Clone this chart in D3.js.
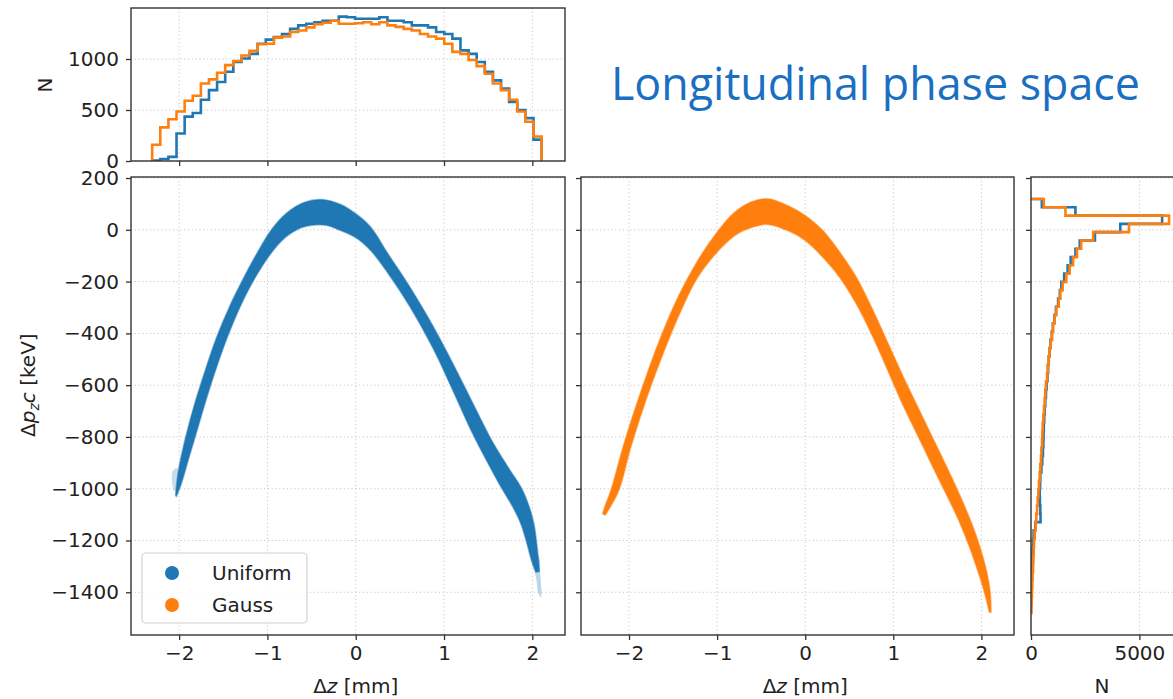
<!DOCTYPE html>
<html><head><meta charset="utf-8">
<script src="https://cdn.jsdelivr.net/npm/d3@7"></script>
<style>
body{margin:0;background:#fff;}
svg{display:block;font-family:"DejaVu Sans",sans-serif;}
</style></head>
<body><svg id="c" width="1173" height="699"></svg>
<script>
// ---------------- DATA ----------------
const seriesNames = ["Uniform", "Gauss"];
const seriesColors = ["#1f77b4", "#ff7f0e"];

// Top histogram of Δz (48 bins)
const zHistStart = -2.305, zHistBinWidth = 0.091875;
const zHistUniform = [5,20,40,270,435,470,600,695,775,875,970,1005,1050,1150,1190,1215,1245,1295,1330,1345,1360,1375,1375,1415,1410,1395,1395,1395,1410,1375,1375,1360,1330,1330,1310,1265,1245,1200,1085,1050,970,875,790,710,580,500,420,210];
const zHistGauss = [160,330,410,485,590,640,760,800,865,940,980,1035,1080,1145,1150,1210,1220,1265,1280,1310,1340,1355,1375,1345,1345,1350,1360,1340,1360,1330,1315,1295,1280,1245,1220,1200,1150,1070,1050,990,930,855,760,695,600,485,385,240];

// Right histogram of Δp_z c (50 bins, from top)
const pHistTop = 119, pHistBinWidth = 32;
const pHistUniform = [500,2050,6050,4120,2950,2250,2050,1830,1690,1530,1400,1330,1250,1150,1080,1010,960,900,860,820,790,760,720,690,660,630,610,590,580,570,550,520,480,430,420,400,410,430,440,200,120,90,70,60,45,30,15,5,0,0];
const pHistGauss = [590,1590,6370,4520,2870,2315,2120,1940,1785,1630,1460,1355,1280,1170,1090,1015,970,910,860,815,770,740,690,660,630,600,570,540,525,510,480,460,430,400,370,340,310,280,245,215,170,140,125,110,95,75,60,45,30,15];

// Phase-space bands: upper and lower outlines [Δz mm, Δp_z c keV]
const uniformUpper = [[-2.04,-1025],[-2.02,-960],[-2.00,-916],[-1.925,-800],[-1.83,-680],[-1.72,-560],[-1.58,-420],[-1.42,-290],[-1.26,-180],[-1.10,-80],[-0.95,2],[-0.78,65],[-0.60,104],[-0.39,117],[-0.17,98],[0,62],[0.17,10],[0.36,-90],[0.62,-225],[0.88,-375],[1.12,-530],[1.34,-680],[1.55,-820],[1.74,-925],[1.88,-1000],[1.97,-1075],[2.02,-1140],[2.045,-1200],[2.065,-1260],[2.08,-1320]];
const uniformLower = [[-2.03,-1030],[-1.97,-975],[-1.906,-900],[-1.81,-790],[-1.72,-685],[-1.60,-555],[-1.46,-420],[-1.30,-290],[-1.14,-185],[-0.97,-95],[-0.80,-30],[-0.62,8],[-0.47,19],[-0.32,17],[-0.17,-3],[0,-30],[0.17,-80],[0.36,-165],[0.62,-300],[0.88,-460],[1.10,-620],[1.30,-770],[1.48,-890],[1.64,-990],[1.78,-1071],[1.87,-1135],[1.93,-1200],[1.98,-1264],[2.04,-1322]];
const uniformTail = [[1.99,-1250],[2.07,-1260],[2.09,-1330],[2.10,-1420],[2.07,-1405],[2.04,-1340],[1.98,-1270]];
const uniformHead = [[-2.07,-930],[-2.02,-920],[-2.01,-1000],[-2.05,-1010],[-2.08,-975]];
const gaussUpper = [[-2.30,-1097],[-2.28,-1075],[-2.20,-1000],[-2.06,-830],[-1.90,-660],[-1.67,-441],[-1.445,-261],[-1.22,-119],[-1.0,-9],[-0.80,68],[-0.615,107],[-0.43,120],[-0.20,94],[0,55],[0.2,-3],[0.39,-86],[0.58,-183],[0.77,-312],[0.955,-450],[1.13,-580],[1.30,-700],[1.47,-820],[1.64,-940],[1.80,-1060],[1.95,-1190],[2.06,-1320],[2.10,-1400],[2.11,-1477]];
const gaussLower = [[-2.27,-1102],[-2.12,-1010],[-1.98,-840],[-1.80,-650],[-1.60,-467],[-1.41,-312],[-1.22,-183],[-1.0,-86],[-0.80,-22],[-0.65,4],[-0.43,21],[-0.20,-3],[0,-41],[0.2,-106],[0.39,-183],[0.58,-286],[0.77,-415],[0.955,-557],[1.10,-670],[1.27,-790],[1.44,-910],[1.60,-1020],[1.74,-1120],[1.87,-1230],[1.99,-1350],[2.05,-1420],[2.09,-1477]];

const zTicks = [-2,-1,0,1,2];
const pTicks = [200,0,-200,-400,-600,-800,-1000,-1200,-1400];
const nTopTicks = [0,500,1000];
const nRightTicks = [0,5000];
const titleText = "Longitudinal phase space";

// ---------------- DRAW ----------------
const svg = d3.select("#c");
const fmt = d3.format("");
const FS = 20;
const axisCol = "#333";

const zDomain = [-2.545, 2.37];
const pDomain = [-1565, 204];
const xL = d3.scaleLinear().domain(zDomain).range([131, 565]);
const xM = d3.scaleLinear().domain(zDomain).range([581, 1014]);
const yP = d3.scaleLinear().domain(pDomain).range([635, 177]);
const yTop = d3.scaleLinear().domain([0, 1500]).range([161, 8]);
const xR = d3.scaleLinear().domain([0, 6690]).range([1031, 1176]);

function panel(id, x, y, xt, yt, showXLab, showYLab) {
  const [x0, x1] = x.range(); const [y1, y0] = y.range();
  const g = svg.append("g");
  svg.append("clipPath").attr("id", id).append("rect")
    .attr("x", x0).attr("y", y0).attr("width", x1 - x0).attr("height", y1 - y0);
  const grid = g.append("g").attr("stroke", "#c8c8c8").attr("stroke-width", 1).attr("stroke-dasharray", "1.2,2.6");
  xt.forEach(t => grid.append("line").attr("x1", x(t)).attr("x2", x(t)).attr("y1", y0).attr("y2", y1));
  yt.forEach(t => grid.append("line").attr("x1", x0).attr("x2", x1).attr("y1", y(t)).attr("y2", y(t)));
  const content = g.append("g").attr("clip-path", `url(#${id})`);
  const ax = d3.axisBottom(x).tickValues(xt).tickSize(5).tickPadding(6).tickFormat(showXLab ? fmt : "");
  const ay = d3.axisLeft(y).tickValues(yt).tickSize(5).tickPadding(7).tickFormat(showYLab ? fmt : "");
  const gx = svg.append("g").attr("transform", `translate(0,${y1})`).call(ax);
  const gy = svg.append("g").attr("transform", `translate(${x0},0)`).call(ay);
  [gx, gy].forEach(a => {
    a.select(".domain").remove();
    a.selectAll("line").attr("stroke", axisCol).attr("stroke-width", 1.3);
    a.selectAll("text").attr("font-size", FS).attr("fill", "#222").attr("font-family", "DejaVu Sans");
  });
  return {content, frame: () => svg.append("rect").attr("x", x0).attr("y", y0).attr("width", x1 - x0).attr("height", y1 - y0)
    .attr("fill", "none").attr("stroke", axisCol).attr("stroke-width", 1.4)};
}

// top histogram
const pTop = panel("cTop", xL, yTop, zTicks, nTopTicks, false, true);
function zStep(vals) {
  const pts = [[zHistStart, 0]];
  vals.forEach((v, i) => { pts.push([zHistStart + i * zHistBinWidth, v]); pts.push([zHistStart + (i + 1) * zHistBinWidth, v]); });
  pts.push([zHistStart + vals.length * zHistBinWidth, 0]);
  return d3.line().x(d => xL(d[0])).y(d => yTop(d[1]))(pts);
}
[zHistUniform, zHistGauss].forEach((vals, i) => pTop.content.append("path").attr("d", zStep(vals))
  .attr("fill", "none").attr("stroke", seriesColors[i]).attr("stroke-width", 2.6).attr("stroke-linejoin", "miter"));
pTop.frame();

// smooth band outline
function band(x, up, lo) {
  const ln = d3.line().x(d => x(d[0])).y(d => yP(d[1])).curve(d3.curveCatmullRom.alpha(0.5));
  const a = ln(up), b = ln(lo.slice().reverse());
  return a + "L" + b.slice(1) + "Z";
}
const blob = (x, pts) => d3.line().x(d => x(d[0])).y(d => yP(d[1])).curve(d3.curveCatmullRomClosed.alpha(0.5))(pts);

const pL = panel("cL", xL, yP, zTicks, pTicks, true, true);
pL.content.append("path").attr("d", blob(xL, uniformTail)).attr("fill", seriesColors[0]).attr("opacity", 0.3);
pL.content.append("path").attr("d", blob(xL, uniformHead)).attr("fill", seriesColors[0]).attr("opacity", 0.25);
pL.content.append("path").attr("d", band(xL, uniformUpper, uniformLower)).attr("fill", seriesColors[0])
  .attr("stroke", seriesColors[0]).attr("stroke-width", 1.6).attr("stroke-opacity", 0.5).attr("stroke-linejoin", "round");
pL.frame();

const pM = panel("cM", xM, yP, zTicks, pTicks, true, false);
pM.content.append("path").attr("d", band(xM, gaussUpper, gaussLower)).attr("fill", seriesColors[1])
  .attr("stroke", seriesColors[1]).attr("stroke-width", 1.6).attr("stroke-opacity", 0.5).attr("stroke-linejoin", "round");
pM.frame();

// right histogram
const pR = panel("cR", xR, yP, nRightTicks, pTicks, true, false);
function pStep(vals) {
  const pts = [[0, pHistTop]];
  vals.forEach((v, i) => { pts.push([v, pHistTop - i * pHistBinWidth]); pts.push([v, pHistTop - (i + 1) * pHistBinWidth]); });
  pts.push([0, pHistTop - vals.length * pHistBinWidth]);
  return d3.line().x(d => xR(d[0])).y(d => yP(d[1]))(pts);
}
[pHistUniform, pHistGauss].forEach((vals, i) => pR.content.append("path").attr("d", pStep(vals))
  .attr("fill", "none").attr("stroke", seriesColors[i]).attr("stroke-width", 2.6).attr("stroke-linejoin", "miter"));
pR.frame();

// axis labels
function zLabel(cx) {
  const t = svg.append("text").attr("x", cx).attr("y", 693).attr("text-anchor", "middle").attr("font-size", FS).attr("fill", "#222");
  t.append("tspan").text("Δ");
  t.append("tspan").attr("font-style", "italic").text("z");
  t.append("tspan").text(" [mm]");
}
zLabel(xL(0)); zLabel(xM(0));
svg.append("text").attr("x", 1102).attr("y", 693).attr("text-anchor", "middle").attr("font-size", FS).attr("fill", "#222").text("N");
svg.append("text").attr("transform", "translate(52,85) rotate(-90)").attr("text-anchor", "middle").attr("font-size", FS).attr("fill", "#222").text("N");
const yl = svg.append("text").attr("transform", `translate(35,${yP(-600)}) rotate(-90)`).attr("text-anchor", "middle").attr("font-size", FS).attr("fill", "#222");
yl.append("tspan").text("Δ");
yl.append("tspan").attr("font-style", "italic").text("p");
yl.append("tspan").attr("font-style", "italic").attr("font-size", 14).attr("dy", 4).text("z");
yl.append("tspan").attr("font-style", "italic").attr("dy", -4).text("c");
yl.append("tspan").text(" [keV]");

// legend
const lg = svg.append("g");
lg.append("rect").attr("x", 142).attr("y", 553).attr("width", 165).attr("height", 70).attr("rx", 4)
  .attr("fill", "#fff").attr("fill-opacity", 0.85).attr("stroke", "#d0d0d0").attr("stroke-width", 1.2);
seriesNames.forEach((n, i) => {
  lg.append("circle").attr("cx", 172).attr("cy", 573 + i * 32).attr("r", 7).attr("fill", seriesColors[i]);
  lg.append("text").attr("x", 212).attr("y", 580 + i * 32).attr("font-size", FS).attr("fill", "#222").text(n);
});

// title
const tt = svg.append("text").attr("x", 611).attr("y", 100).attr("font-family", "Open Sans").attr("font-size", 40)
  .attr("fill", "#1a6fc2").text(titleText);
const w = tt.node().getComputedTextLength();
tt.attr("font-size", 40 * 529 / w);
</script></body></html>
